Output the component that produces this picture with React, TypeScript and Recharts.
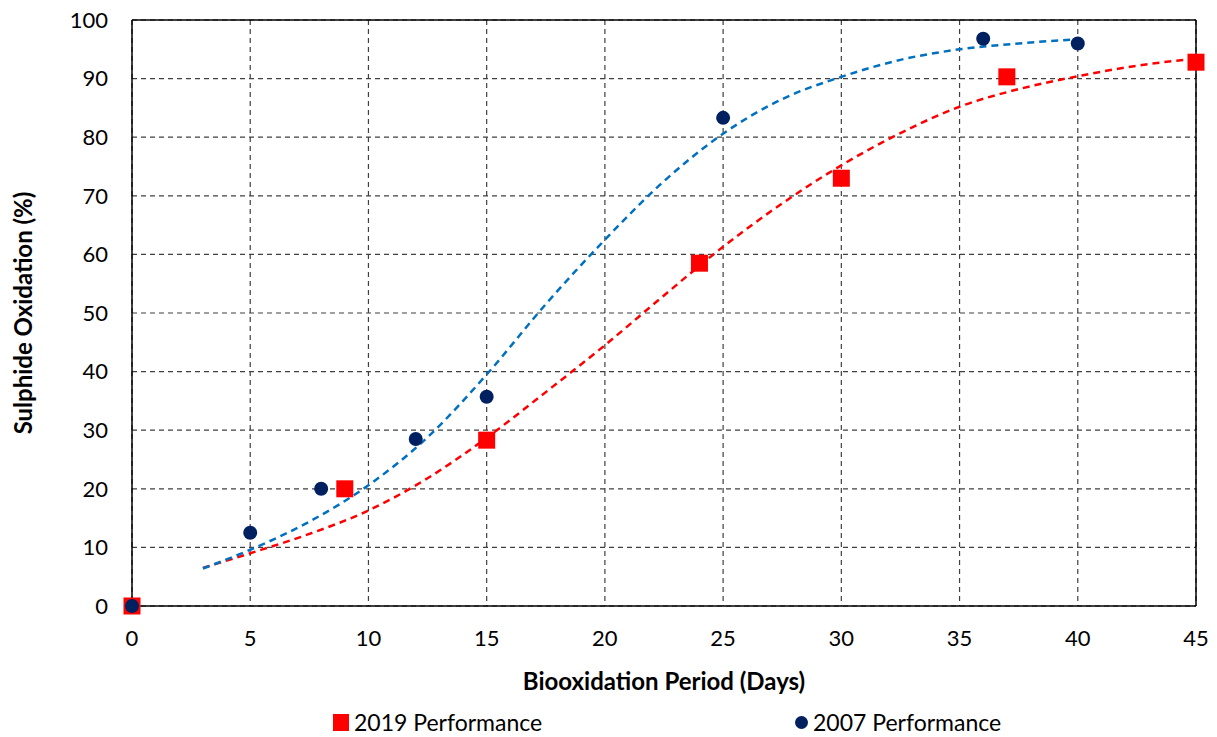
import {
  ComposedChart,
  Line,
  Scatter,
  XAxis,
  YAxis,
  CartesianGrid,
  ReferenceLine,
  Legend,
} from "recharts";

// measured points (days, % oxidation)
const perf2019 = [
  { x: 0, y: 0 },
  { x: 9, y: 20 },
  { x: 15, y: 28.3 },
  { x: 24, y: 58.5 },
  { x: 30, y: 73 },
  { x: 37, y: 90.3 },
  { x: 45, y: 92.8 },
];

const perf2007 = [
  { x: 0, y: 0 },
  { x: 5, y: 12.5 },
  { x: 8, y: 20 },
  { x: 12, y: 28.5 },
  { x: 15, y: 35.7 },
  { x: 25, y: 83.3 },
  { x: 36, y: 96.8 },
  { x: 40, y: 96 },
];

// trend lines
const trend2019 = [
  { x: 3, y: 6.5 },
  { x: 5, y: 9.0 },
  { x: 7.5, y: 12.3 },
  { x: 10, y: 16.3 },
  { x: 12.5, y: 21.8 },
  { x: 15, y: 28.7 },
  { x: 17.5, y: 36.5 },
  { x: 20, y: 44.5 },
  { x: 22.5, y: 53 },
  { x: 25, y: 61.3 },
  { x: 27.5, y: 68.7 },
  { x: 30, y: 75.2 },
  { x: 32.5, y: 80.7 },
  { x: 35, y: 85.2 },
  { x: 37.5, y: 88.2 },
  { x: 40, y: 90.4 },
  { x: 42.5, y: 92.2 },
  { x: 45, y: 93.4 },
];

const trend2007 = [
  { x: 3, y: 6.4 },
  { x: 5, y: 9.6 },
  { x: 7.5, y: 14.4 },
  { x: 10, y: 20.6 },
  { x: 12.5, y: 28.8 },
  { x: 15, y: 39.5 },
  { x: 17.5, y: 51.5 },
  { x: 20, y: 62.5 },
  { x: 22.5, y: 72.5 },
  { x: 25, y: 80.6 },
  { x: 27.5, y: 86.5 },
  { x: 30, y: 90.3 },
  { x: 32.5, y: 93.2 },
  { x: 35, y: 95 },
  { x: 37.5, y: 96 },
  { x: 40, y: 96.7 },
];

const xTicks = [0, 5, 10, 15, 20, 25, 30, 35, 40, 45];
const yTicks = [0, 10, 20, 30, 40, 50, 60, 70, 80, 90, 100];

const RED = "#ff0000";
const NAVY = "#002060";
const BLUE = "#0070c0";
const FONT = "Lato, 'Open Sans', sans-serif";

const SquareDot = (props: any) => {
  const { cx, cy } = props;
  return <rect x={cx - 8.5} y={cy - 8.5} width={17} height={17} fill={RED} />;
};

const CircleDot = (props: any) => {
  const { cx, cy } = props;
  return <circle cx={cx} cy={cy} r={7} fill={NAVY} />;
};

const LegendBox = () => (
  <div
    style={{
      position: "relative",
      height: 32,
      fontFamily: FONT,
      fontSize: 23,
      color: "#000",
    }}
  >
    <div style={{ position: "absolute", left: 333, top: 3, display: "flex", alignItems: "center" }}>
      <span style={{ width: 16, height: 17, background: RED, display: "inline-block", marginRight: 5 }} />
      <span>2019 Performance</span>
    </div>
    <div style={{ position: "absolute", left: 795, top: 3, display: "flex", alignItems: "center" }}>
      <span
        style={{
          width: 13,
          height: 13,
          borderRadius: "50%",
          background: NAVY,
          display: "inline-block",
          marginRight: 5,
        }}
      />
      <span>2007 Performance</span>
    </div>
  </div>
);

const YTitle = (props: any) => {
  const { viewBox } = props;
  const cx = viewBox.x + 22;
  const cy = viewBox.y + viewBox.height / 2;
  return (
    <text
      x={cx}
      y={cy}
      transform={`rotate(-90 ${cx} ${cy})`}
      textAnchor="middle"
      dominantBaseline="central"
      fontFamily={FONT}
      fontWeight="bold"
      fontSize={24}
      fill="#000"
    >
      Sulphide Oxidation (%)
    </text>
  );
};

const XTitle = (props: any) => {
  const { viewBox } = props;
  const cx = viewBox.x + viewBox.width / 2;
  return (
    <text
      x={cx}
      y={viewBox.y + 74}
      textAnchor="middle"
      dominantBaseline="central"
      fontFamily={FONT}
      fontWeight="bold"
      fontSize={24}
      fill="#000"
    >
      Biooxidation Period (Days)
    </text>
  );
};

export default function App() {
  return (
    <div style={{ width: 1217, height: 737, background: "#fff" }}>
      <style>{`body{margin:0}`}</style>
      <ComposedChart
        width={1217}
        height={737}
        margin={{ top: 20, right: 21, left: 0, bottom: 0 }}
      >
        <CartesianGrid
          stroke="#404040"
          strokeDasharray="5 4"
          strokeWidth={1.2}
          horizontalValues={yTicks}
          verticalValues={xTicks}
        />
        <XAxis
          dataKey="x"
          type="number"
          domain={[0, 45]}
          ticks={xTicks}
          interval={0}
          allowDuplicatedCategory={false}
          height={99}
          tickLine={false}
          tickSize={0}
          tickMargin={24}
          axisLine={{ stroke: "#000", strokeWidth: 1.5 }}
          tick={{ fill: "#000", fontSize: 22, fontFamily: FONT }}
          label={<XTitle />}
        />
        <YAxis
          type="number"
          domain={[0, 100]}
          ticks={yTicks}
          interval={0}
          width={132}
          tickLine={false}
          tickSize={0}
          tickMargin={24}
          axisLine={{ stroke: "#000", strokeWidth: 1.5 }}
          tick={{ fill: "#000", fontSize: 22, fontFamily: FONT }}
          label={<YTitle />}
        />
        <ReferenceLine y={100} stroke="#000" strokeWidth={1.5} ifOverflow="visible" />
        <ReferenceLine x={45} stroke="#000" strokeWidth={1.5} ifOverflow="visible" />
        <Line
          data={trend2019}
          dataKey="y"
          type="monotone"
          stroke={RED}
          strokeWidth={2.5}
          strokeDasharray="7 5"
          dot={false}
          activeDot={false}
          legendType="none"
          isAnimationActive={false}
        />
        <Line
          data={trend2007}
          dataKey="y"
          type="monotone"
          stroke={BLUE}
          strokeWidth={2.5}
          strokeDasharray="7 5"
          dot={false}
          activeDot={false}
          legendType="none"
          isAnimationActive={false}
        />
        <Scatter
          name="2019 Performance"
          data={perf2019}
          dataKey="y"
          fill={RED}
          shape={<SquareDot />}
          isAnimationActive={false}
        />
        <Scatter
          name="2007 Performance"
          data={perf2007}
          dataKey="y"
          fill={NAVY}
          shape={<CircleDot />}
          isAnimationActive={false}
        />
        <Legend verticalAlign="bottom" height={32} content={<LegendBox />} />
      </ComposedChart>
    </div>
  );
}
